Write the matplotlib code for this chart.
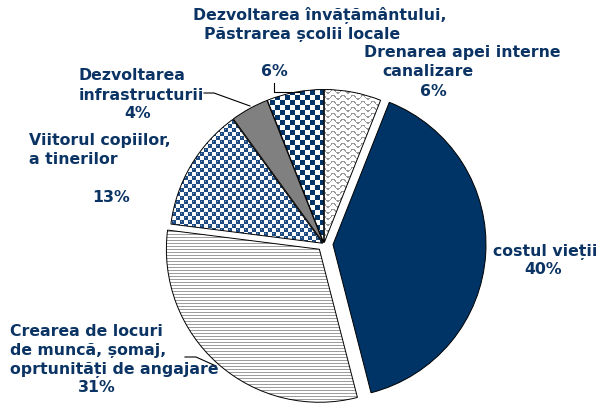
import matplotlib
matplotlib.use("Agg")
import matplotlib.pyplot as plt
import numpy as np

# Slices, clockwise from 12 o'clock
categories = [
    "Drenarea apei interne\ncanalizare",
    "costul vieții",
    "Crearea de locuri\nde muncă, șomaj,\noprtunități de angajare",
    "Viitorul copiilor,\na tinerilor",
    "Dezvoltarea\ninfrastructurii",
    "Dezvoltarea învățământului,\nPăstrarea școlii locale",
]
values = [6, 40, 31, 13, 4, 6]

NAVY = "#003366"
TEXT = "#0b3464"
W, H = 601, 405

# label line positions (x, y from top, ha) -- one entry per text line, last is the percent
label_pos = [
    [(462, 53, "center"), (428, 72, "center"), (433, 91, "center")],
    [(545, 252, "center"), (543, 270, "center")],
    [(10, 331, "left"), (10, 351, "left"), (10, 370, "left"), (97, 388, "center")],
    [(29, 140, "left"), (29, 159, "left"), (111, 197, "center")],
    [(79, 75, "left"), (79, 95, "left"), (138, 113, "center")],
    [(320, 16, "center"), (302, 34, "center"), (274, 72, "center")],
]
leaders = [
    None, None,
    [(185, 357), (196, 357), (216, 366)],
    None,
    [(204, 93), (214, 93), (250, 106)],
    [(274, 83), (274, 92), (300, 92)],
]
explode = [1.5, 9, 7, 1.5, 1.5, 1.5]

# fill patterns in pixel space
yy, xx = np.mgrid[0:H, 0:W]
white = np.ones((H, W, 3))


def rgb(h):
    h = h.lstrip("#")
    return np.array([int(h[i:i + 2], 16) / 255 for i in (0, 2, 4)])


def pat_wavy():
    img = white.copy()
    d = (yy + 1.8 * np.sin(2 * np.pi * xx / 10)) % 6
    img[d < 1.3] = rgb("#9a9a9a")
    return img


def pat_hlines():
    img = white.copy()
    img[yy % 3 == 0] = rgb("#9e9e9e")
    return img


def pat_spheres():
    img = white.copy()
    dark = ((xx // 4 + yy // 4) % 2) == 0
    img[dark] = rgb("#1d4a80")
    hi = dark & (xx % 4 == 1) & (yy % 4 == 1)
    img[hi] = rgb("#7d9bc0")
    return img


def pat_checker():
    img = white.copy()
    img[((xx // 5 + yy // 5) % 2) == 0] = rgb(NAVY)
    return img


fills = [pat_wavy(), NAVY, pat_hlines(), pat_spheres(), "#808080", pat_checker()]

fig = plt.figure(figsize=(W / 100, H / 100), dpi=100)
ax = fig.add_axes([0, 0, 1, 1])

wedges, _ = ax.pie(values, startangle=90, counterclock=False,
                   center=(324, H - 244), radius=153, explode=explode,
                   wedgeprops=dict(edgecolor="black", linewidth=0.7))

for w, f in zip(wedges, fills):
    w.set_zorder(3)
    if isinstance(f, str):
        w.set_facecolor(f)
    else:
        w.set_facecolor("none")
        im = ax.imshow(f, extent=(0, W, 0, H), origin="upper",
                       interpolation="nearest", zorder=2)
        im.set_clip_path(w)

for cat, v, pos, lead in zip(categories, values, label_pos, leaders):
    lines = cat.split("\n") + [f"{v}%"]
    for txt, (x, y, ha) in zip(lines, pos):
        ax.text(x, H - y, txt, ha=ha, va="center", color=TEXT,
                fontsize=11.3, fontweight="bold", family="DejaVu Sans", zorder=5)
    if lead:
        lx, ly = zip(*lead)
        ax.plot(lx, [H - p for p in ly], color="black", lw=0.8, zorder=4)

ax.set_xlim(0, W)
ax.set_ylim(0, H)
ax.set_aspect("auto")
ax.set_axis_off()

fig.savefig("out.png", dpi=100)
